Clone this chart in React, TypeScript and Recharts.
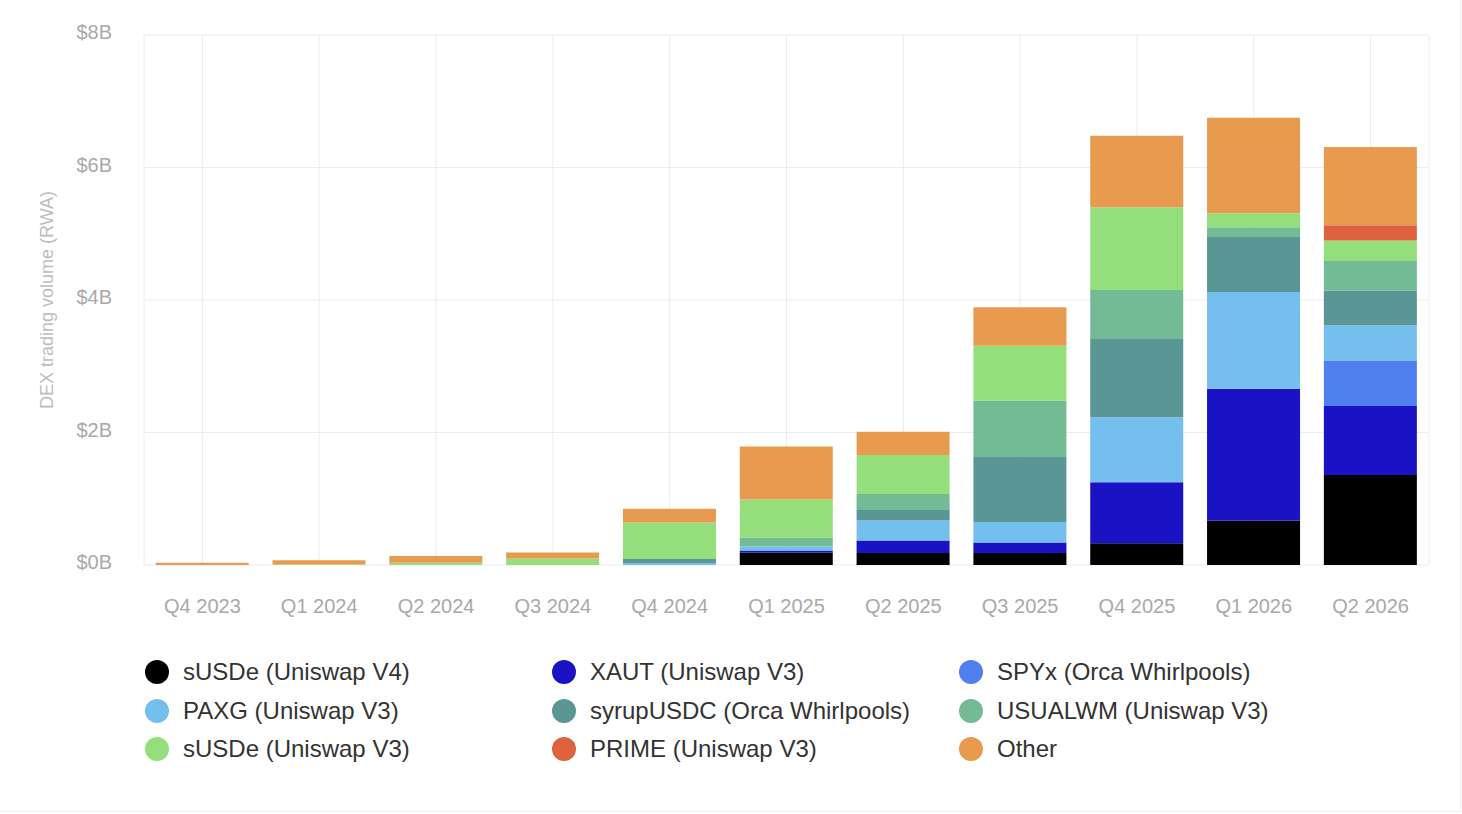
import { BarChart, Bar, XAxis, YAxis, CartesianGrid } from 'recharts';

// Quarters on the x axis
const quarters = [
  'Q4 2023', 'Q1 2024', 'Q2 2024', 'Q3 2024', 'Q4 2024', 'Q1 2025',
  'Q2 2025', 'Q3 2025', 'Q4 2025', 'Q1 2026', 'Q2 2026',
];

// Volumes in $B (bottom of the stack first)
const susdeV4 = [0, 0, 0, 0, 0, 0.19, 0.18, 0.18, 0.33, 0.67, 1.36];
const xaut = [0, 0, 0, 0, 0, 0.03, 0.19, 0.16, 0.92, 1.99, 1.04];
const spyx = [0, 0, 0, 0, 0, 0, 0, 0, 0, 0, 0.68];
const paxg = [0, 0, 0, 0, 0.03, 0.06, 0.3, 0.31, 0.98, 1.46, 0.54];
const syrupUsdc = [0, 0, 0, 0, 0.06, 0, 0.16, 0.99, 1.18, 0.83, 0.52];
const usualwm = [0, 0, 0, 0, 0, 0.13, 0.24, 0.84, 0.74, 0.15, 0.45];
const susdeV3 = [0, 0.01, 0.035, 0.1, 0.55, 0.58, 0.59, 0.83, 1.25, 0.21, 0.31];
const prime = [0, 0, 0, 0, 0, 0, 0, 0, 0, 0, 0.23];
const other = [0.035, 0.06, 0.1, 0.09, 0.21, 0.8, 0.35, 0.58, 1.08, 1.44, 1.18];

const seriesNames = [
  'sUSDe (Uniswap V4)',
  'XAUT (Uniswap V3)',
  'SPYx (Orca Whirlpools)',
  'PAXG (Uniswap V3)',
  'syrupUSDC (Orca Whirlpools)',
  'USUALWM (Uniswap V3)',
  'sUSDe (Uniswap V3)',
  'PRIME (Uniswap V3)',
  'Other',
];
const seriesValues = [susdeV4, xaut, spyx, paxg, syrupUsdc, usualwm, susdeV3, prime, other];

const yTicks = [0, 2, 4, 6, 8];

const seriesColors = [
  '#000000', '#1a13c6', '#4f80ee', '#74bfee', '#5a9696',
  '#72bb95', '#94df7c', '#de6240', '#e89b4f',
];

const data = quarters.map((q, i) => {
  const row: Record<string, string | number> = { quarter: q };
  seriesValues.forEach((vals, s) => {
    row[`s${s}`] = vals[i];
  });
  return row;
});

const FONT = '"Liberation Sans", Arial, Helvetica, sans-serif';

export default function App() {
  return (
    <div
      style={{
        position: 'absolute',
        left: 0,
        top: 0,
        width: 1460,
        height: 811,
        background: '#fff',
        borderRight: '1px solid #f0f0f0',
        borderBottom: '1px solid #f0f0f0',
        fontFamily: FONT,
      }}
    >
      <BarChart
        width={1462}
        height={628}
        data={data}
        margin={{ top: 35, right: 33, bottom: 0, left: 0 }}
        barCategoryGap="10%"
      >
        <CartesianGrid
          stroke="#ececec"
          verticalCoordinatesGenerator={({ offset }: any) => {
            const band = offset.width / quarters.length;
            return [
              offset.left,
              ...quarters.map((_, i) => offset.left + band * (i + 0.5)),
              offset.left + offset.width,
            ];
          }}
        />
        <XAxis
          dataKey="quarter"
          axisLine={false}
          tickLine={false}
          tickSize={0}
          tickMargin={34}
          height={63}
          interval={0}
          tick={{ fill: '#a9a9a9', fontSize: 20, fontFamily: FONT }}
        />
        <YAxis
          domain={[0, 8]}
          ticks={yTicks}
          axisLine={false}
          tickLine={false}
          tickSize={0}
          tickMargin={32}
          width={144}
          tickFormatter={(v) => `$${v}B`}
          tick={{ fill: '#a9a9a9', fontSize: 20, fontFamily: FONT, dy: -3 }}
          label={{
            value: 'DEX trading volume (RWA)',
            angle: -90,
            position: 'insideLeft',
            offset: 47,
            textAnchor: 'middle',
            fill: '#bdbdbd',
            fontSize: 18,
            fontFamily: FONT,
          }}
        />
        {seriesNames.map((name, s) => (
          <Bar
            key={name}
            dataKey={`s${s}`}
            name={name}
            stackId="a"
            fill={seriesColors[s]}
            isAnimationActive={false}
          />
        ))}
      </BarChart>

      {/* Legend, 3 columns */}
      <div
        style={{
          position: 'absolute',
          left: 145,
          top: 660,
          display: 'grid',
          gridTemplateColumns: '407px 407px 407px',
          rowGap: 14.5,
        }}
      >
        {seriesNames.map((name, s) => (
          <div key={name} style={{ display: 'flex', alignItems: 'center', height: 24 }}>
            <span
              style={{
                width: 24,
                height: 24,
                borderRadius: '50%',
                background: seriesColors[s],
                marginRight: 14,
                flexShrink: 0,
              }}
            />
            <span style={{ fontSize: 24, color: '#333', whiteSpace: 'nowrap' }}>{name}</span>
          </div>
        ))}
      </div>
    </div>
  );
}
